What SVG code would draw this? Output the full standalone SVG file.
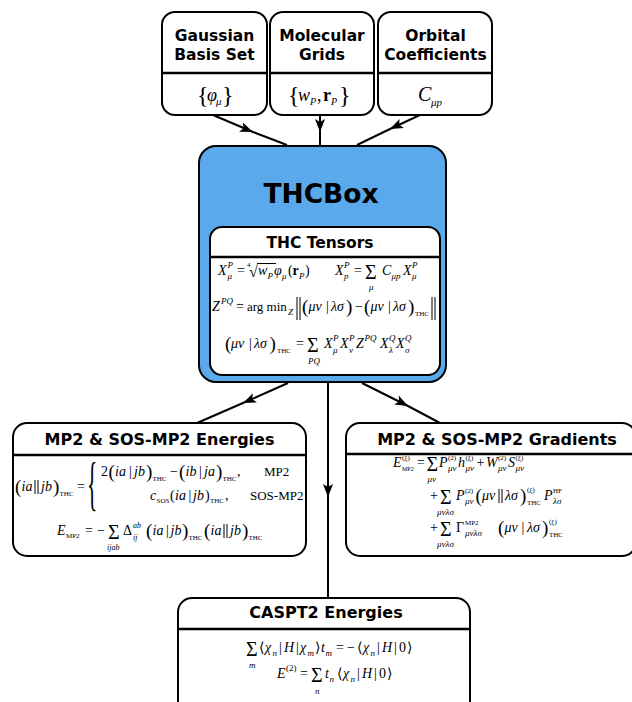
<svg xmlns="http://www.w3.org/2000/svg" width="632" height="702" viewBox="0 0 632 702">
<defs>
<style>
.box{fill:#fff;stroke:#000;stroke-width:2}
.blue{fill:#5aaaeb;stroke:#000;stroke-width:2}
.dv{stroke:#000;stroke-width:2.5;fill:none}
.ln{stroke:#000;stroke-width:1;fill:none}
.t{font-family:"DejaVu Sans",sans-serif;font-weight:bold;text-anchor:middle;fill:#000}
.m{font-family:"Liberation Serif","Times New Roman",serif;font-size:14px;fill:#000}
.i{font-style:italic}
.s{font-size:9px}
.ss{font-size:7px}
.b{font-weight:bold}
.g{font-size:20px}
.p{font-size:19px}
.ab{font-family:"DejaVu Serif",serif;font-size:14px}
.conn{stroke:#000;stroke-width:2;fill:none;marker-mid:url(#ah)}
</style>
<marker id="ah" markerUnits="userSpaceOnUse" viewBox="-14 -6 16 12" refX="0" refY="0" markerWidth="16" markerHeight="12" orient="auto">
<path d="M0,0 L-13,-5 L-10,0 L-13,5 Z" fill="#000"/>
</marker>
</defs>

<g id="connectors">
<polyline class="conn" points="213,115 253,132 287,145"/>
<polyline class="conn" points="320,114 320,132 320,145"/>
<polyline class="conn" points="420,115 390,129 357,145"/>
<polyline class="conn" points="288,383 243,403 197,423"/>
<polyline class="conn" points="362,383 408,406 440,423"/>
<polyline class="conn" points="328,383 328,497 328,598"/>
</g>

<g id="gaussian-basis-set">
<rect class="box" x="162" y="12" width="105" height="103" rx="13"/>
<line class="dv" x1="162" y1="73" x2="267" y2="73"/>
<text class="t" font-size="15.5" x="214.5" y="41">Gaussian</text>
<text class="t" font-size="15.5" x="214.5" y="60">Basis Set</text>
<text class="m"><tspan x="197" y="103" font-size="24">{</tspan><tspan class="i" x="207" y="101" font-size="18">φ</tspan><tspan class="i" x="216" y="105" font-size="11">μ</tspan><tspan x="222" y="103" font-size="24">}</tspan></text>
</g>

<g id="molecular-grids">
<rect class="box" x="270" y="12" width="104" height="103" rx="13"/>
<line class="dv" x1="270" y1="73" x2="374" y2="73"/>
<text class="t" font-size="15.5" x="322" y="41">Molecular</text>
<text class="t" font-size="15.5" x="322" y="60">Grids</text>
<text class="m"><tspan x="288" y="103" font-size="24">{</tspan><tspan class="i" x="298" y="101" font-size="18">w</tspan><tspan class="i" x="310" y="105" font-size="10">P</tspan><tspan x="317" y="101" font-size="18">,</tspan><tspan class="b" x="323" y="101" font-size="18">r</tspan><tspan class="i" x="331" y="105" font-size="10">P</tspan><tspan x="339" y="103" font-size="24">}</tspan></text>
</g>

<g id="orbital-coefficients">
<rect class="box" x="378" y="12" width="114" height="103" rx="13"/>
<line class="dv" x1="378" y1="73" x2="492" y2="73"/>
<text class="t" font-size="15.5" x="435.5" y="41">Orbital</text>
<text class="t" font-size="15.5" x="435.5" y="60">Coefficients</text>
<text class="m"><tspan class="i" x="418" y="101" font-size="20">C</tspan><tspan class="i" x="431" y="106" font-size="11">μp</tspan></text>
</g>

<g id="thcbox">
<rect class="blue" x="199" y="146" width="247" height="236" rx="17"/>
<text class="t" font-size="26.5" x="321" y="203">THCBox</text>
<g id="thc-tensors">
<rect class="box" x="210" y="227" width="230" height="148" rx="12"/>
<line class="dv" x1="210" y1="257" x2="440" y2="257"/>
<text class="t" font-size="15.5" x="320" y="248">THC Tensors</text>
<text class="m"><tspan class="i" x="218" y="275">X</tspan><tspan class="i s" x="227.5" y="268">P</tspan><tspan class="i s" x="227.5" y="279">μ</tspan><tspan x="237" y="275">=</tspan><tspan x="247" y="267" font-size="7">4</tspan><tspan x="249" y="277" font-size="16">√</tspan><tspan class="i" x="258" y="275">w</tspan><tspan class="i s" x="267.5" y="279">P</tspan><tspan class="i" x="274" y="275">φ</tspan><tspan class="i s" x="282" y="279">μ</tspan><tspan x="288" y="275">(</tspan><tspan class="b" x="292.5" y="275">r</tspan><tspan class="i s" x="299" y="279">P</tspan><tspan x="305" y="275">)</tspan></text>
<path class="ln" d="M257,263.5 H276" stroke-width="0.8"/>
<text class="m"><tspan class="i" x="335" y="275">X</tspan><tspan class="i s" x="344" y="268">P</tspan><tspan class="i s" x="344" y="279">p</tspan><tspan x="354" y="275">=</tspan><tspan class="g" x="365" y="279">Σ</tspan><tspan class="i s" x="369" y="290">μ</tspan><tspan class="i" x="382" y="275">C</tspan><tspan class="i s" x="391.5" y="279">μp</tspan><tspan class="i" x="403" y="275">X</tspan><tspan class="i s" x="412" y="268">P</tspan><tspan class="i s" x="412" y="279">μ</tspan></text>
<text class="m"><tspan class="i" x="212" y="311">Z</tspan><tspan class="i s" x="221" y="304">PQ</tspan><tspan x="236" y="311">=</tspan><tspan x="247" y="311" font-size="13">arg min</tspan><tspan class="i s" x="288" y="315">Z</tspan><tspan class="p" x="302" y="313">(</tspan><tspan class="i" x="308.5" y="311">μν</tspan><tspan x="326" y="311">|</tspan><tspan class="i" x="331" y="311">λσ</tspan><tspan class="p" x="346" y="313">)</tspan><tspan x="355" y="311">−</tspan><tspan class="p" x="364" y="313">(</tspan><tspan class="i" x="370.5" y="311">μν</tspan><tspan x="388" y="311">|</tspan><tspan x="393" y="311" class="i">λσ</tspan><tspan class="p" x="408" y="313">)</tspan><tspan class="ss" x="415" y="316">THC</tspan></text>
<path class="ln" d="M297,297 V320 M300,297 V320 M432,297 V320 M435,297 V320"/>
<text class="m"><tspan class="p" x="225" y="350">(</tspan><tspan class="i" x="231" y="348">μν</tspan><tspan x="249" y="348">|</tspan><tspan class="i" x="254" y="348">λσ</tspan><tspan class="p" x="269.5" y="350">)</tspan><tspan class="ss" x="277" y="353">THC</tspan><tspan x="296" y="348">=</tspan><tspan class="g" x="307" y="352">Σ</tspan><tspan class="i s" x="308" y="364">PQ</tspan><tspan class="i" x="324" y="348">X</tspan><tspan class="i s" x="333" y="341">P</tspan><tspan class="i s" x="333" y="353">μ</tspan><tspan class="i" x="340" y="348">X</tspan><tspan class="i s" x="349" y="341">P</tspan><tspan class="i s" x="349" y="353">ν</tspan><tspan class="i" x="356" y="348">Z</tspan><tspan class="i s" x="364.5" y="341">PQ</tspan><tspan class="i" x="380" y="348">X</tspan><tspan class="i s" x="389" y="341">Q</tspan><tspan class="i s" x="389" y="353">λ</tspan><tspan class="i" x="396" y="348">X</tspan><tspan class="i s" x="405" y="341">Q</tspan><tspan class="i s" x="405" y="353">σ</tspan></text>
</g>
</g>

<g id="mp2-energies">
<rect class="box" x="13" y="423" width="293" height="133" rx="14"/>
<line class="dv" x1="13" y1="455" x2="306" y2="455"/>
<text class="t" font-size="16" x="159.5" y="445">MP2 &amp; SOS-MP2 Energies</text>
<text class="m"><tspan class="p" x="15" y="493">(</tspan><tspan class="i" x="21.5" y="491">ia</tspan><tspan class="i" x="41" y="491">jb</tspan><tspan class="p" x="53" y="493">)</tspan><tspan class="ss" x="59.5" y="496">THC</tspan><tspan x="77" y="491">=</tspan></text>
<path class="ln" d="M35,480 V494 M38,480 V494"/>
<text class="m" style="font-size:60px" transform="translate(87,503) scale(0.36,1)">{</text>
<text class="m"><tspan x="101" y="476">2</tspan><tspan class="p" x="108.5" y="478">(</tspan><tspan class="i" x="115" y="476">ia</tspan><tspan x="129" y="476">|</tspan><tspan class="i" x="134" y="476">jb</tspan><tspan class="p" x="146" y="478">)</tspan><tspan class="ss" x="152.5" y="481">THC</tspan><tspan x="170" y="476">−</tspan><tspan class="p" x="179" y="478">(</tspan><tspan class="i" x="185.5" y="476">ib</tspan><tspan x="199" y="476">|</tspan><tspan class="i" x="204" y="476">ja</tspan><tspan class="p" x="216" y="478">)</tspan><tspan class="ss" x="222.5" y="481">THC</tspan><tspan x="237" y="476">,</tspan><tspan x="264" y="476" font-size="13">MP2</tspan></text>
<text class="m"><tspan class="i" x="150" y="500">c</tspan><tspan class="ss" x="156.5" y="503">SOS</tspan><tspan x="170" y="500">(</tspan><tspan class="i" x="175" y="500">ia</tspan><tspan x="188.5" y="500">|</tspan><tspan class="i" x="193" y="500">jb</tspan><tspan x="205" y="500">)</tspan><tspan class="ss" x="210" y="503">THC</tspan><tspan x="225" y="500">,</tspan><tspan x="250" y="500" font-size="13">SOS-MP2</tspan></text>
<text class="m"><tspan class="i" x="57" y="535">E</tspan><tspan class="ss" x="66" y="538">MP2</tspan><tspan x="85" y="535">=</tspan><tspan x="97" y="535">−</tspan><tspan class="g" x="108" y="539">Σ</tspan><tspan class="i" x="107" y="550" font-size="8">ijab</tspan><tspan x="123" y="535">Δ</tspan><tspan class="i" x="133" y="528" font-size="8">ab</tspan><tspan class="i" x="133" y="540" font-size="8">ij</tspan><tspan class="p" x="146" y="537">(</tspan><tspan class="i" x="152.5" y="535">ia</tspan><tspan x="166" y="535">|</tspan><tspan class="i" x="170.5" y="535">jb</tspan><tspan class="p" x="182" y="537">)</tspan><tspan class="ss" x="188.5" y="540">THC</tspan><tspan class="p" x="204" y="537">(</tspan><tspan class="i" x="210.5" y="535">ia</tspan><tspan class="i" x="230" y="535">jb</tspan><tspan class="p" x="242" y="537">)</tspan><tspan class="ss" x="248.5" y="540">THC</tspan></text>
<path class="ln" d="M224,524 V538 M227,524 V538"/>
</g>

<g id="mp2-gradients">
<rect class="box" x="346" y="423" width="290" height="133" rx="14"/>
<line class="dv" x1="346" y1="454" x2="636" y2="454"/>
<text class="t" font-size="16" x="497" y="445">MP2 &amp; SOS-MP2 Gradients</text>
<text class="m"><tspan class="i" x="393" y="467">E</tspan><tspan class="ss" x="402" y="460">(ξ)</tspan><tspan x="402" y="471" font-size="6">MP2</tspan><tspan x="417" y="467">=</tspan><tspan class="g" x="426.5" y="471">Σ</tspan><tspan class="i s" x="427.5" y="482">μν</tspan><tspan class="i" x="439" y="467">P</tspan><tspan class="ss" x="448" y="460">(2)</tspan><tspan class="i s" x="448" y="471">μν</tspan><tspan class="i" x="458" y="467">h</tspan><tspan class="ss" x="465.5" y="460">(ξ)</tspan><tspan class="i s" x="465.5" y="471">μν</tspan><tspan x="476.5" y="467">+</tspan><tspan class="i" x="486" y="467">W</tspan><tspan class="ss" x="498" y="460">(2)</tspan><tspan class="i s" x="498" y="471">μν</tspan><tspan class="i" x="508" y="467">S</tspan><tspan class="ss" x="515.5" y="460">(ξ)</tspan><tspan class="i s" x="515.5" y="471">μν</tspan></text>
<text class="m"><tspan x="430" y="500">+</tspan><tspan class="g" x="440" y="504">Σ</tspan><tspan class="i s" x="437" y="515">μνλσ</tspan><tspan class="i" x="456" y="500">P</tspan><tspan class="ss" x="465" y="493">(2)</tspan><tspan class="i s" x="465" y="504">μν</tspan><tspan class="p" x="475.5" y="502">(</tspan><tspan class="i" x="482" y="500">μν</tspan><tspan class="i" x="505" y="500">λσ</tspan><tspan class="p" x="520" y="502">)</tspan><tspan class="ss" x="527" y="492">(ξ)</tspan><tspan class="ss" x="527" y="505">THC</tspan><tspan class="i" x="544" y="500">P</tspan><tspan class="ss" x="553" y="493">HF</tspan><tspan class="i s" x="553" y="504">λσ</tspan></text>
<path class="ln" d="M499,489 V503 M502,489 V503"/>
<text class="m"><tspan x="430" y="532">+</tspan><tspan class="g" x="440" y="536">Σ</tspan><tspan class="i s" x="437" y="547">μνλσ</tspan><tspan x="456" y="532">Γ</tspan><tspan class="ss" x="465" y="525">MP2</tspan><tspan class="i s" x="465" y="536">μνλσ</tspan><tspan class="p" x="498" y="534">(</tspan><tspan class="i" x="504.5" y="532">μν</tspan><tspan x="521.5" y="532">|</tspan><tspan class="i" x="527" y="532">λσ</tspan><tspan class="p" x="542" y="534">)</tspan><tspan class="ss" x="549" y="524">(ξ)</tspan><tspan class="ss" x="549" y="537">THC</tspan></text>
</g>

<g id="caspt2-energies">
<rect class="box" x="178" y="598" width="292" height="120" rx="14"/>
<line class="dv" x1="178" y1="629" x2="470" y2="629"/>
<text class="t" font-size="16" x="326" y="618">CASPT2 Energies</text>
<text class="m"><tspan class="g" x="246" y="656">Σ</tspan><tspan class="i s" x="249" y="668">m</tspan><tspan class="ab" x="259" y="652">⟨</tspan><tspan class="i" x="265" y="652">χ</tspan><tspan class="i s" x="272.5" y="656">n</tspan><tspan x="279" y="652">|</tspan><tspan class="i" x="284" y="652">H</tspan><tspan x="296" y="652">|</tspan><tspan class="i" x="300" y="652">χ</tspan><tspan class="i s" x="307.5" y="656">m</tspan><tspan class="ab" x="315" y="652">⟩</tspan><tspan class="i" x="321" y="652">t</tspan><tspan class="i s" x="325.5" y="656">m</tspan><tspan x="336" y="652">=</tspan><tspan x="347" y="652">−</tspan><tspan class="ab" x="357" y="652">⟨</tspan><tspan class="i" x="363" y="652">χ</tspan><tspan class="i s" x="370.5" y="656">n</tspan><tspan x="377" y="652">|</tspan><tspan class="i" x="382" y="652">H</tspan><tspan x="394" y="652">|</tspan><tspan x="399" y="652">0</tspan><tspan class="ab" x="407" y="652">⟩</tspan></text>
<text class="m"><tspan class="i" x="277" y="678">E</tspan><tspan class="ss" x="286" y="671" style="font-size:9px">(2)</tspan><tspan x="300" y="678">=</tspan><tspan class="g" x="311" y="682">Σ</tspan><tspan class="i s" x="315" y="694">n</tspan><tspan class="i" x="325" y="678">t</tspan><tspan class="i s" x="329.5" y="682">n</tspan><tspan class="ab" x="337" y="678">⟨</tspan><tspan class="i" x="343" y="678">χ</tspan><tspan class="i s" x="350.5" y="682">n</tspan><tspan x="357" y="678">|</tspan><tspan class="i" x="362" y="678">H</tspan><tspan x="374" y="678">|</tspan><tspan x="379" y="678">0</tspan><tspan class="ab" x="387" y="678">⟩</tspan></text>
</g>
</svg>
